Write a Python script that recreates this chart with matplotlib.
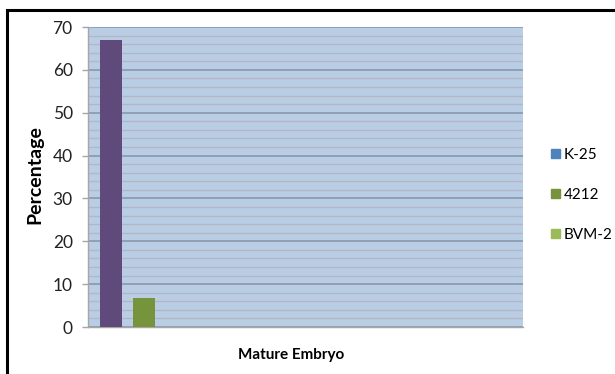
import matplotlib.pyplot as plt
from matplotlib.patches import Rectangle
from matplotlib.ticker import MultipleLocator

# data
series = ["K-25", "4212", "BVM-2"]
values = [67, 6.8, 0]
bar_colors = ["#604A7B", "#77933C", "#9BBB59"]
legend_colors = ["#4F81BD", "#77933C", "#9BBB59"]
x_label = "Mature Embryo"
y_label = "Percentage"

plt.rcParams["font.family"] = ["Lato", "DejaVu Sans"]

fig = plt.figure(figsize=(6.15, 3.74), dpi=100)
W, H = 615, 374

# outer chart frame
fig.patches.append(Rectangle((7 / W, -0.1), 1.2, 1 - 10 / H + 0.1,
                             transform=fig.transFigure, fill=False,
                             edgecolor="black", linewidth=2.2))

ax = fig.add_axes([88 / W, 1 - 327 / H, 435 / W, 300 / H])
ax.set_facecolor("#B9CDE5")

ax.bar(range(len(values)), values, width=0.67, color=bar_colors, zorder=3)

ax.set_xlim(-0.7, 12.48)
ax.set_ylim(0, 70)
ax.yaxis.set_major_locator(MultipleLocator(10))
ax.yaxis.set_minor_locator(MultipleLocator(2))
ax.grid(which="major", axis="y", color="#8593A6", linewidth=1.1, zorder=1)
ax.grid(which="minor", axis="y", color="#B4B6C4", linewidth=1.0, zorder=1)
ax.set_axisbelow(True)

for s in ["top", "right"]:
    ax.spines[s].set_visible(False)
for s in ["left", "bottom"]:
    ax.spines[s].set_color("#A6A6A6")
    ax.spines[s].set_linewidth(1.0)

ax.set_xticks([])
ax.tick_params(axis="y", which="major", length=4, width=1, color="#A6A6A6",
               pad=7, labelsize=12.5, labelcolor="#222222")
ax.tick_params(axis="y", which="minor", length=0)

fig.text(35 / W, 1 - 175 / H, y_label, rotation=90, ha="center", va="center",
         fontsize=14, fontweight="bold")
fig.text(291 / W, 1 - 355 / H, x_label, ha="center", va="center",
         fontsize=11, fontweight="bold")

handles = [Rectangle((0, 0), 1, 1, color=c) for c in legend_colors]
fig.legend(handles, series, loc="center left",
           bbox_to_anchor=(540 / W, 1 - 195 / H), frameon=False,
           fontsize=11, handlelength=0.6, handleheight=0.6,
           handletextpad=0.25, labelspacing=1.7, borderpad=0.2)

fig.savefig("out.png", dpi=100)
